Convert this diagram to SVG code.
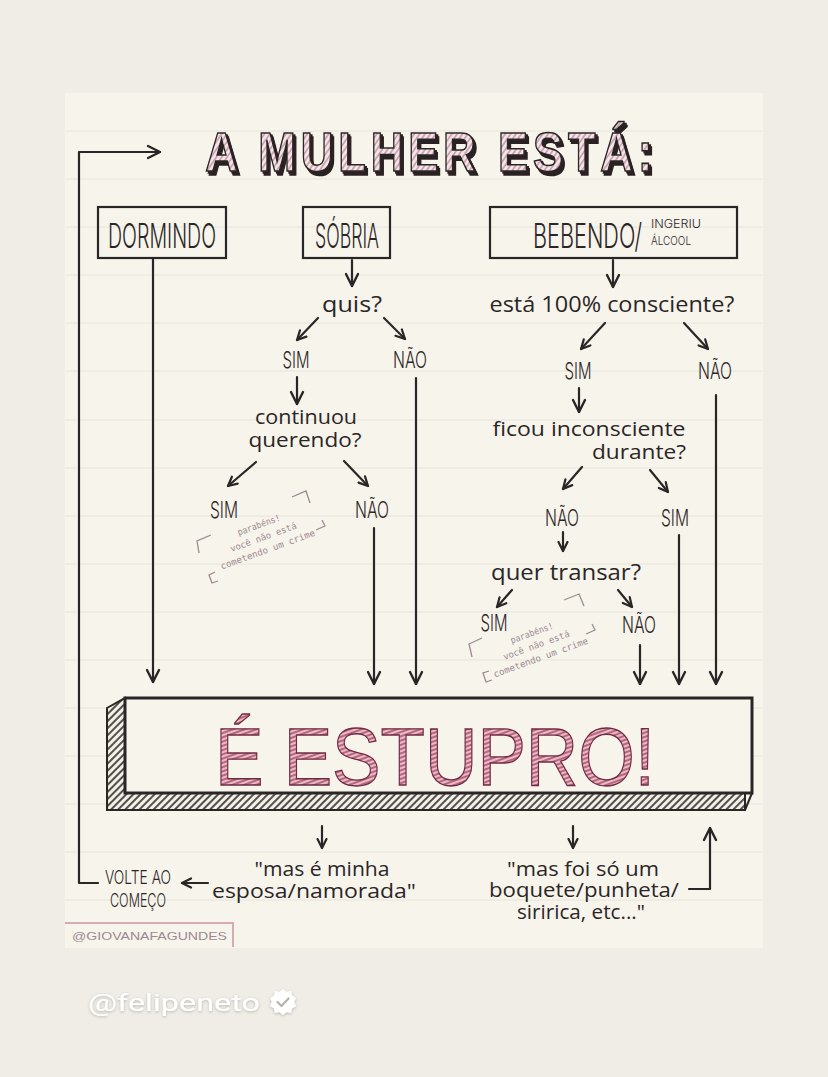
<svg xmlns="http://www.w3.org/2000/svg" width="828" height="1077" viewBox="0 0 828 1077">
<defs>
<style>
.ink{fill:#2b2626;font-family:Inter,"Liberation Sans",Arial,sans-serif;font-weight:300}
.cap{fill:#2b2626;font-family:Inter,"Liberation Sans",Arial,sans-serif;font-weight:300;font-size:23px;text-anchor:middle}
.hand{fill:#2b2626;font-family:"Open Sans","Noto Sans",sans-serif;font-size:21px;text-anchor:middle}
.hand2{fill:#2b2626;font-family:"Open Sans","Noto Sans",sans-serif;font-size:19.5px;text-anchor:middle}
.box{fill:none;stroke:#2b2626;stroke-width:2.2}
.con{fill:none;stroke:#2b2626;stroke-width:2.2;stroke-linecap:round;stroke-linejoin:round}
.rule{stroke:#e7e3da;stroke-width:1.2}
.pb{fill:#9c8a90;font-family:"DejaVu Sans Mono","Liberation Mono",monospace;font-size:9px;text-anchor:middle}
.br{fill:none;stroke:#9c8a90;stroke-width:1.3}
</style>
<marker id="ah" viewBox="0 0 12 12" refX="10.5" refY="6" markerWidth="12" markerHeight="12" markerUnits="userSpaceOnUse" orient="auto">
<path d="M1.5,1.5 L10.5,6 L1.5,10.5" fill="none" stroke="#2b2626" stroke-width="2.2" stroke-linecap="round" stroke-linejoin="round"/>
</marker>
<marker id="ahL" viewBox="0 0 16 16" refX="14" refY="8" markerWidth="16" markerHeight="16" markerUnits="userSpaceOnUse" orient="auto">
<path d="M2,2 L14,8 L2,14" fill="none" stroke="#2b2626" stroke-width="2.4" stroke-linecap="round" stroke-linejoin="round"/>
</marker>
<pattern id="hatch" width="5" height="5" patternUnits="userSpaceOnUse" patternTransform="rotate(40)">
<rect width="5" height="5" fill="#f4e4e8"/>
<line x1="1" y1="0" x2="1" y2="5" stroke="#bf95a0" stroke-width="1.6"/>
</pattern>
<pattern id="hatchR" width="4" height="4" patternUnits="userSpaceOnUse" patternTransform="rotate(70)">
<rect width="4" height="4" fill="#e6bcc8"/>
<line x1="1" y1="0" x2="1" y2="4" stroke="#a8405f" stroke-width="1.4"/>
</pattern>
<pattern id="hatchD" width="5" height="5" patternUnits="userSpaceOnUse" patternTransform="rotate(45)">
<rect width="5" height="5" fill="#f3f0e8"/>
<line x1="1" y1="0" x2="1" y2="5" stroke="#2b2626" stroke-width="1.6"/>
</pattern>
<filter id="tsh" x="-5%" y="-20%" width="110%" height="150%">
<feOffset in="SourceAlpha" dx="1.5" dy="2" result="o1"/>
<feOffset in="SourceAlpha" dx="3" dy="4" result="o2"/>
<feMerge result="om"><feMergeNode in="o1"/><feMergeNode in="o2"/></feMerge>
<feFlood flood-color="#2b2020"/>
<feComposite in2="om" operator="in" result="s"/>
<feMerge><feMergeNode in="s"/><feMergeNode in="SourceGraphic"/></feMerge>
</filter>
<filter id="sh" x="-10%" y="-30%" width="120%" height="160%">
<feDropShadow dx="0" dy="1" stdDeviation="1.5" flood-color="#000" flood-opacity="0.25"/>
</filter>
</defs>

<rect width="828" height="1077" fill="#efede6"/>
<rect x="65" y="93" width="698" height="855" fill="#f7f4ec"/>
<g id="rules">
<line class="rule" x1="65" y1="131" x2="763" y2="131"/>
<line class="rule" x1="65" y1="179" x2="763" y2="179"/>
<line class="rule" x1="65" y1="227" x2="763" y2="227"/>
<line class="rule" x1="65" y1="275" x2="763" y2="275"/>
<line class="rule" x1="65" y1="323" x2="763" y2="323"/>
<line class="rule" x1="65" y1="371" x2="763" y2="371"/>
<line class="rule" x1="65" y1="420" x2="763" y2="420"/>
<line class="rule" x1="65" y1="468" x2="763" y2="468"/>
<line class="rule" x1="65" y1="516" x2="763" y2="516"/>
<line class="rule" x1="65" y1="564" x2="763" y2="564"/>
<line class="rule" x1="65" y1="612" x2="763" y2="612"/>
<line class="rule" x1="65" y1="660" x2="763" y2="660"/>
<line class="rule" x1="65" y1="708" x2="763" y2="708"/>
<line class="rule" x1="65" y1="756" x2="763" y2="756"/>
<line class="rule" x1="65" y1="804" x2="763" y2="804"/>
<line class="rule" x1="65" y1="852" x2="763" y2="852"/>
<line class="rule" x1="65" y1="900" x2="763" y2="900"/>
</g>

<g id="title" filter="url(#tsh)">
<text x="429" y="171" font-family="Liberation Sans,Arial,sans-serif" font-weight="bold" font-size="55" text-anchor="middle" textLength="546" lengthAdjust="spacing" fill="url(#hatch)" stroke="#2b2626" stroke-width="1.6" transform="translate(429,0) scale(0.82,1) translate(-429,0)">A MULHER ESTÁ:</text>
</g>

<g id="dormindo">
<rect class="box" x="98" y="207" width="128" height="51"/>
<text class="ink" x="162" y="248" font-size="34" text-anchor="middle" textLength="108" lengthAdjust="spacingAndGlyphs">DORMINDO</text>
</g>
<g id="sobria">
<rect class="box" x="303" y="207" width="87" height="51"/>
<text class="ink" x="347" y="248" font-size="34" text-anchor="middle" textLength="64" lengthAdjust="spacingAndGlyphs">SÓBRIA</text>
</g>
<g id="bebendo">
<rect class="box" x="490" y="207" width="247" height="51" stroke-width="3"/>
<text class="ink" x="533" y="248" font-size="34" textLength="109" lengthAdjust="spacingAndGlyphs">BEBENDO/</text>
<text class="ink" font-size="12"><tspan x="651" y="228" textLength="50" lengthAdjust="spacingAndGlyphs">INGERIU</tspan><tspan x="651" y="245" textLength="40" lengthAdjust="spacingAndGlyphs">ÁLCOOL</tspan></text>
</g>

<g id="connectors">
<path class="con" d="M98,883 L79,883 L79,152 L160,152" marker-end="url(#ahL)"/>
<path class="con" d="M153,258 V682" marker-end="url(#ahL)"/>
<path class="con" d="M352,260 V286" marker-end="url(#ahL)"/>
<path class="con" d="M318,318 L297,340" marker-end="url(#ah)"/>
<path class="con" d="M384,318 L405,339" marker-end="url(#ah)"/>
<path class="con" d="M297,377 V404" marker-end="url(#ahL)"/>
<path class="con" d="M416,378 V684" marker-end="url(#ahL)"/>
<path class="con" d="M256,462 L228,486" marker-end="url(#ah)"/>
<path class="con" d="M344,461 L368,486" marker-end="url(#ah)"/>
<path class="con" d="M374,528 V684" marker-end="url(#ahL)"/>
<path class="con" d="M613,260 V287" marker-end="url(#ahL)"/>
<path class="con" d="M605,323 L581,349" marker-end="url(#ah)"/>
<path class="con" d="M684,323 L708,349" marker-end="url(#ah)"/>
<path class="con" d="M716,395 V684" marker-end="url(#ahL)"/>
<path class="con" d="M579,388 V412" marker-end="url(#ahL)"/>
<path class="con" d="M582,467 L563,489" marker-end="url(#ah)"/>
<path class="con" d="M650,470 L668,492" marker-end="url(#ah)"/>
<path class="con" d="M679,535 V684" marker-end="url(#ahL)"/>
<path class="con" d="M563,532 V551" marker-end="url(#ah)"/>
<path class="con" d="M512,590 L497,607" marker-end="url(#ah)"/>
<path class="con" d="M618,590 L632,607" marker-end="url(#ah)"/>
<path class="con" d="M640,645 V684" marker-end="url(#ahL)"/>
<path class="con" d="M322,826 V848" marker-end="url(#ah)"/>
<path class="con" d="M573,826 V848" marker-end="url(#ah)"/>
<path class="con" d="M208,883 L182,883" marker-end="url(#ah)"/>
<path class="con" d="M689,889 L710,889 L710,828" marker-end="url(#ahL)"/>
</g>

<g id="sobria-tree">
<text class="hand" x="352" y="312" textLength="60" lengthAdjust="spacingAndGlyphs">quis?</text>
<text class="cap" x="296" y="368" textLength="27" lengthAdjust="spacingAndGlyphs">SIM</text>
<text class="cap" x="410" y="368" textLength="34" lengthAdjust="spacingAndGlyphs">NÃO</text>
<text class="hand2"><tspan x="306" y="424" textLength="102" lengthAdjust="spacingAndGlyphs">continuou</tspan><tspan x="305" y="447" textLength="113" lengthAdjust="spacingAndGlyphs">querendo?</tspan></text>
<text class="cap" x="224" y="518" textLength="28" lengthAdjust="spacingAndGlyphs">SIM</text>
<text class="cap" x="372" y="518" textLength="34" lengthAdjust="spacingAndGlyphs">NÃO</text>
</g>

<g id="parabens1">
<polyline class="br" points="292,497 306,491 310,503"/>
<polyline class="br" points="211,535 197,541 199,553"/>
<polyline class="br" points="215,572 209,575 212,583 218,581"/>
<polyline class="br" points="316,530 325,526 322,520"/>
<text class="pb" transform="translate(265,542) rotate(-20)"><tspan x="0" y="-15" textLength="45" lengthAdjust="spacingAndGlyphs">parabéns!</tspan><tspan x="0" y="-2" textLength="70" lengthAdjust="spacingAndGlyphs">você não está</tspan><tspan x="0" y="11" textLength="100" lengthAdjust="spacingAndGlyphs">cometendo um crime</tspan></text>
</g>

<g id="bebendo-tree">
<text class="hand" x="612" y="312" textLength="245" lengthAdjust="spacingAndGlyphs">está 100% consciente?</text>
<text class="cap" x="578" y="379" textLength="27" lengthAdjust="spacingAndGlyphs">SIM</text>
<text class="cap" x="715" y="379" textLength="34" lengthAdjust="spacingAndGlyphs">NÃO</text>
<text class="hand2"><tspan x="589" y="436" textLength="193" lengthAdjust="spacingAndGlyphs">ficou inconsciente</tspan><tspan x="639" y="459" textLength="94" lengthAdjust="spacingAndGlyphs">durante?</tspan></text>
<text class="cap" x="562" y="526" textLength="34" lengthAdjust="spacingAndGlyphs">NÃO</text>
<text class="cap" x="675" y="526" textLength="28" lengthAdjust="spacingAndGlyphs">SIM</text>
<text class="hand" x="566" y="580" textLength="150" lengthAdjust="spacingAndGlyphs">quer transar?</text>
<text class="cap" x="494" y="631" textLength="27" lengthAdjust="spacingAndGlyphs">SIM</text>
<text class="cap" x="639" y="633" textLength="34" lengthAdjust="spacingAndGlyphs">NÃO</text>
</g>

<g id="parabens2">
<polyline class="br" points="564,600 579,594 584,606"/>
<polyline class="br" points="482,638 469,644 472,657"/>
<polyline class="br" points="489,671 483,673 486,682 492,680"/>
<polyline class="br" points="586,634 595,630 592,624"/>
<text class="pb" transform="translate(538,650) rotate(-20)"><tspan x="0" y="-15" textLength="45" lengthAdjust="spacingAndGlyphs">parabéns!</tspan><tspan x="0" y="-2" textLength="70" lengthAdjust="spacingAndGlyphs">você não está</tspan><tspan x="0" y="11" textLength="100" lengthAdjust="spacingAndGlyphs">cometendo um crime</tspan></text>
</g>

<g id="estupro">
<polygon points="107,708 125,698 125,793 745,793 745,810 107,810" fill="url(#hatchD)" stroke="#2b2626" stroke-width="2"/>
<rect x="125" y="698" width="627" height="95" fill="#f7f4ec" stroke="#2b2626" stroke-width="3"/>
<line x1="745" y1="810" x2="752" y2="793" stroke="#2b2626" stroke-width="2"/>
<text x="435" y="785" font-family="Liberation Sans,Arial,sans-serif" font-size="82" text-anchor="middle" textLength="440" lengthAdjust="spacingAndGlyphs" fill="url(#hatchR)" stroke="#6e2a40" stroke-width="1.3">É ESTUPRO!</text>
</g>

<g id="bottom-left">
<text class="hand2"><tspan x="322" y="876" textLength="135" lengthAdjust="spacingAndGlyphs">"mas é minha</tspan><tspan x="314" y="898" textLength="204" lengthAdjust="spacingAndGlyphs">esposa/namorada"</tspan></text>
</g>
<g id="volte">
<text class="ink" font-size="19" text-anchor="middle" fill="#3d3636"><tspan x="138" y="884" textLength="66" lengthAdjust="spacingAndGlyphs">VOLTE AO</tspan><tspan x="138" y="907" textLength="56" lengthAdjust="spacingAndGlyphs">COMEÇO</tspan></text>
</g>
<g id="bottom-right">
<text class="hand2"><tspan x="583" y="876" textLength="152" lengthAdjust="spacingAndGlyphs">"mas foi só um</tspan><tspan x="584" y="897" textLength="190" lengthAdjust="spacingAndGlyphs">boquete/punheta/</tspan><tspan x="581" y="919" textLength="128" lengthAdjust="spacingAndGlyphs">siririca, etc..."</tspan></text>
</g>

<g id="credit">
<path d="M65,923 H233 V947" fill="none" stroke="#d7aab6" stroke-width="2"/>
<text x="72" y="940" font-family="Liberation Sans,Arial,sans-serif" font-size="11.5" fill="#9c8a90" textLength="155" lengthAdjust="spacingAndGlyphs">@GIOVANAFAGUNDES</text>
</g>

<g id="watermark" filter="url(#sh)">
<text x="88" y="1011" font-family="Roboto,'Liberation Sans',sans-serif" font-size="24" fill="#ffffff" textLength="172" lengthAdjust="spacingAndGlyphs">@felipeneto</text>
<polygon points="283,989 286.5,992 291,991 292,995.5 296,998 294,1002 296,1006 292,1008.5 291,1013 286.5,1012 283,1015 279.5,1012 275,1013 274,1008.5 270,1006 272,1002 270,998 274,995.5 275,991 279.5,992" fill="#ffffff"/>
<path d="M277.5,1002 L281.5,1006 L288.5,998.5" fill="none" stroke="#b5b2ab" stroke-width="2.2" stroke-linecap="round" stroke-linejoin="round"/>
</g>
</svg>
